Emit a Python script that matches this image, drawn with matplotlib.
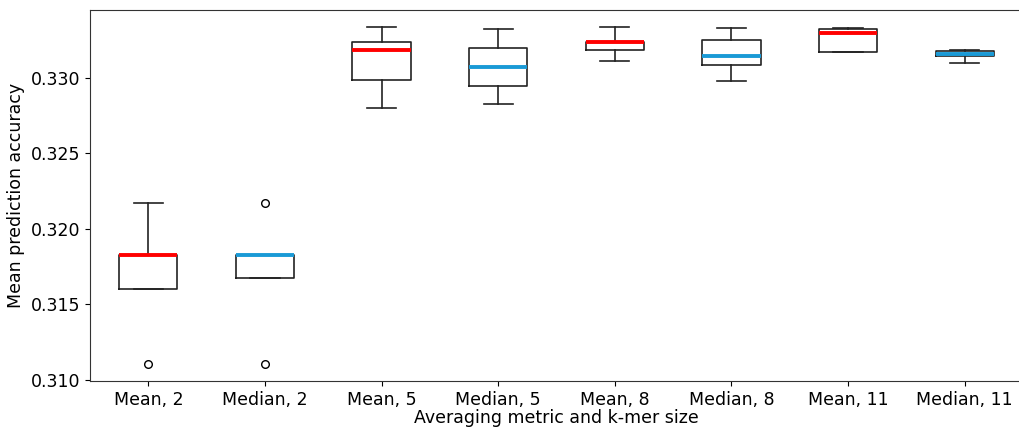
import matplotlib
matplotlib.use('Agg')
import matplotlib.pyplot as plt

# box statistics
labels = ['Mean, 2', 'Median, 2', 'Mean, 5', 'Median, 5',
          'Mean, 8', 'Median, 8', 'Mean, 11', 'Median, 11']
whislo = [0.31600, 0.31673, 0.32800, 0.32824, 0.33111, 0.32976, 0.33170, 0.33097]
q1 = [0.31600, 0.31673, 0.32983, 0.32947, 0.33181, 0.33086, 0.33170, 0.33144]
med = [0.31827, 0.31830, 0.33181, 0.33071, 0.33236, 0.33146, 0.33299, 0.33155]
q3 = [0.31827, 0.31830, 0.33238, 0.33194, 0.33236, 0.33251, 0.33319, 0.33179]
whishi = [0.32171, 0.31830, 0.33337, 0.33322, 0.33337, 0.33331, 0.33326, 0.33183]
fliers = [[0.31106], [0.31106, 0.32169], [], [], [], [], [], []]

median_colors = ['#ff0000', '#1a9ad6'] * 4

stats = []
for i in range(len(labels)):
    stats.append({'label': labels[i], 'whislo': whislo[i], 'q1': q1[i],
                  'med': med[i], 'q3': q3[i], 'whishi': whishi[i],
                  'fliers': fliers[i]})

fig = plt.figure(figsize=(10.19, 4.30), dpi=100)
# axes runs a little past the right edge of the figure, as in the original crop
ax = fig.add_axes([90 / 1019, 1 - 381 / 430, 933 / 1019, 371 / 430])

lw = 1.2
bp = ax.bxp(stats, widths=0.5,
            boxprops=dict(color='#222222', linewidth=lw),
            whiskerprops=dict(color='#222222', linewidth=lw),
            capprops=dict(color='#222222', linewidth=lw),
            flierprops=dict(marker='o', markerfacecolor='none',
                            markeredgecolor='black', markersize=5.5))
for line, c in zip(bp['medians'], median_colors):
    line.set_color(c)
    line.set_linewidth(2.8)

for s in ax.spines.values():
    s.set_color('#333333')

ax.set_ylim(0.30993, 0.33448)
ax.set_yticks([0.310, 0.315, 0.320, 0.325, 0.330])
ax.tick_params(labelsize=12.5)
ax.set_ylabel('Mean prediction accuracy', fontsize=12.5)
ax.set_xlabel('Averaging metric and k-mer size', fontsize=12.5, labelpad=0)

fig.savefig('out.png', dpi=100)
